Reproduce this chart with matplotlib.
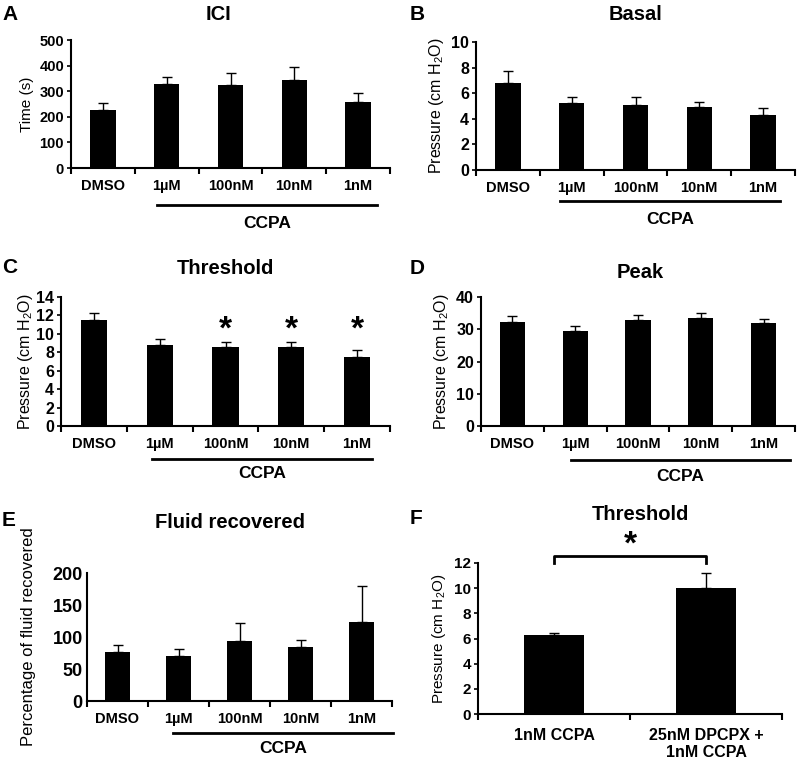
import matplotlib
matplotlib.use("Agg")
import matplotlib.pyplot as plt
import matplotlib.transforms as mtransforms

plt.rcParams['font.family'] = ['Liberation Sans', 'DejaVu Sans']
plt.rcParams['mathtext.default'] = 'regular'

# ---------------- data ----------------
conc_labels = ["DMSO", "1\u00b5M", "100nM", "10nM", "1nM"]

ici_mean = [225, 328, 325, 345, 257]
ici_err = [30, 27, 47, 50, 35]

basal_mean = [6.8, 5.2, 5.1, 4.9, 4.3]
basal_err = [0.9, 0.5, 0.6, 0.4, 0.55]

thr_mean = [11.5, 8.8, 8.6, 8.6, 7.5]
thr_err = [0.8, 0.6, 0.5, 0.5, 0.7]
thr_sig = [False, False, True, True, True]

peak_mean = [32.2, 29.6, 32.9, 33.5, 31.9]
peak_err = [2.0, 1.4, 1.4, 1.5, 1.4]

fluid_mean = [77, 71, 93, 84, 123]
fluid_err = [11, 11, 29, 11, 56]

f_labels = ["1nM CCPA", "25nM DPCPX +\n1nM CCPA"]
f_mean = [6.25, 10.0]
f_err = [0.2, 1.2]

W, H = 810, 761
fig = plt.figure(figsize=(W / 100, H / 100), dpi=100)


def add_ax(left, right, top, bottom):
    return fig.add_axes([left / W, 1 - bottom / H, (right - left) / W, (bottom - top) / H])


def style(ax, n, ylim, yticks, tick_fs=10.5):
    for s in ["top", "right"]:
        ax.spines[s].set_visible(False)
    for s in ["left", "bottom"]:
        ax.spines[s].set_linewidth(1.5)
    ax.set_xlim(-0.5, n - 0.5)
    ax.set_ylim(*ylim)
    ax.set_yticks(yticks)
    ax.set_xticks([i - 0.5 for i in range(n + 1)])
    ax.tick_params(axis='x', which='major', length=4, width=1.5, labelbottom=False, direction='out')
    ax.tick_params(axis='x', which='minor', length=0, pad=8)
    ax.tick_params(axis='y', length=3, width=1.2, labelsize=tick_fs, pad=2)
    for lab in ax.get_yticklabels():
        lab.set_fontweight('bold')


def bars(ax, means, errs, labels, tick_fs=10.5):
    x = list(range(len(means)))
    ax.bar(x, means, width=0.4, color='black', zorder=2)
    ax.errorbar(x, means, yerr=[[0] * len(means), errs], fmt='none', ecolor='black',
                elinewidth=1, capsize=3.5, capthick=1, zorder=1)
    ax.set_xticks(x, minor=True)
    ax.set_xticklabels(labels, minor=True, fontweight='bold', fontsize=tick_fs)


def ccpa(ax, x0, x1, yl, yt):
    tr = mtransforms.blended_transform_factory(ax.transData, ax.transAxes)
    ax.plot([x0, x1], [yl, yl], color='black', lw=2, transform=tr, clip_on=False)
    ax.text((x0 + x1) / 2, yt, "CCPA", transform=tr, ha='center', va='center',
            fontsize=12.5, fontweight='bold')


def title(x, y, s):
    fig.text(x / W, 1 - y / H, s, ha='center', va='center', fontsize=14.5, fontweight='bold')


def letter(x, y, s):
    fig.text(x / W, 1 - y / H, s, ha='left', va='center', fontsize=15, fontweight='bold')


ylab = "Pressure (cm H$_2$O)"

# A
axA = add_ax(71, 390, 40, 168)
style(axA, 5, (0, 500), [0, 100, 200, 300, 400, 500])
bars(axA, ici_mean, ici_err, conc_labels)
axA.set_ylabel("Time (s)", fontsize=11, labelpad=4)
ccpa(axA, 0.85, 4.3, -0.29, -0.43)
title(218, 15, "ICI")
letter(2, 14, "A")

# B
axB = add_ax(476, 795, 42, 170)
style(axB, 5, (0, 10), [0, 2, 4, 6, 8, 10], tick_fs=11.5)
bars(axB, basal_mean, basal_err, conc_labels)
axB.set_ylabel(ylab, fontsize=11.5, labelpad=4)
ccpa(axB, 0.82, 4.26, -0.24, -0.385)
title(635, 15, "Basal")
letter(410, 14, "B")

# C
axC = add_ax(61, 390, 297, 426)
style(axC, 5, (0, 14), list(range(0, 15, 2)), tick_fs=11.5)
bars(axC, thr_mean, thr_err, conc_labels)
axC.set_ylabel(ylab, fontsize=11.5, labelpad=1)
for i, sig in enumerate(thr_sig):
    if sig:
        axC.text(i, 10.4, "*", ha='center', va='center', fontsize=24, fontweight='bold')
ccpa(axC, 0.88, 4.23, -0.256, -0.37)
title(225, 268, "Threshold")
letter(2, 267, "C")

# D
axD = add_ax(481, 795, 297, 426)
style(axD, 5, (0, 40), [0, 10, 20, 30, 40], tick_fs=11.5)
bars(axD, peak_mean, peak_err, conc_labels)
axD.set_ylabel(ylab, fontsize=11.5, labelpad=4)
ccpa(axD, 0.93, 4.42, -0.26, -0.39)
title(640, 272, "Peak")
letter(410, 268, "D")

# E
axE = add_ax(87, 392, 573, 701)
style(axE, 5, (0, 200), [0, 50, 100, 150, 200], tick_fs=13)
bars(axE, fluid_mean, fluid_err, conc_labels)
axE.set_ylabel("Percentage of fluid recovered", fontsize=12, labelpad=12)
axE.tick_params(axis='y', length=0, pad=3)
ccpa(axE, 0.91, 4.52, -0.25, -0.37)
title(230, 522, "Fluid recovered")
letter(2, 520, "E")

# F
axF = add_ax(478, 782, 563, 714)
style(axF, 2, (0, 12), [0, 2, 4, 6, 8, 10, 12], tick_fs=11)
bars(axF, f_mean, f_err, f_labels, tick_fs=11.5)
axF.tick_params(axis='x', which='minor', pad=10)
axF.set_ylabel(ylab, fontsize=11, labelpad=4)
axF.plot([0, 0, 1, 1], [12.0, 12.55, 12.55, 12.0], color='black', lw=2, clip_on=False)
axF.text(0.5, 13.4, "*", ha='center', va='center', fontsize=24, fontweight='bold', clip_on=False)
title(640, 515, "Threshold")
letter(410, 518, "F")

fig.savefig("out.png", dpi=100)
